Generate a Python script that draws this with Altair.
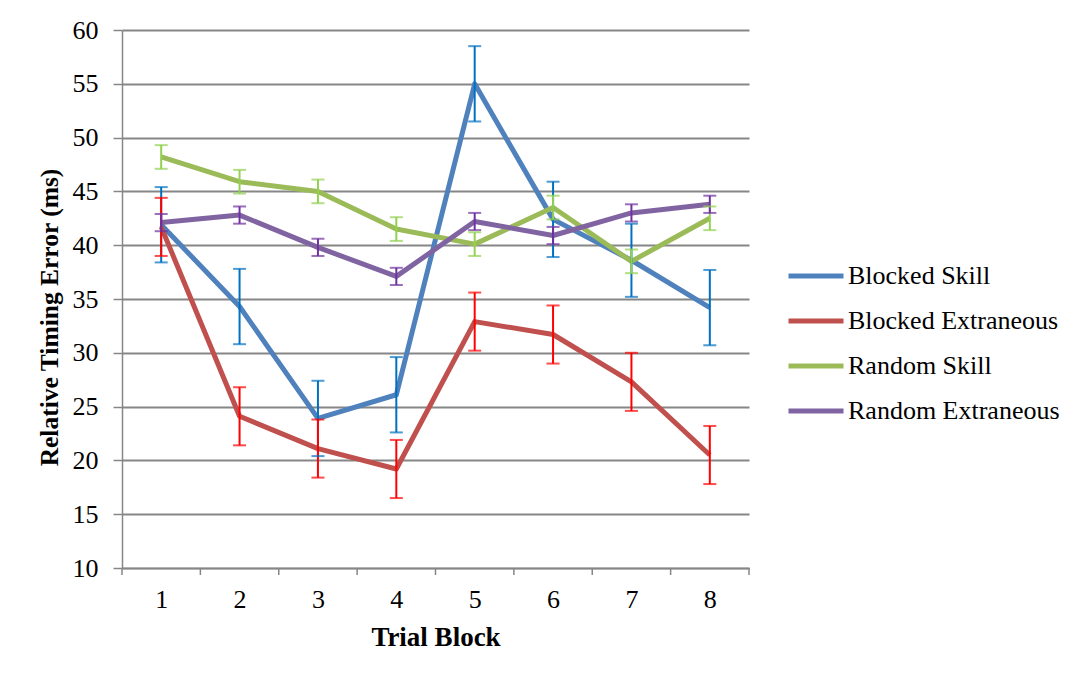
import altair as alt
import pandas as pd

trial = [1, 2, 3, 4, 5, 6, 7, 8]
series_names = ["Blocked Skill", "Blocked Extraneous", "Random Skill", "Random Extraneous"]

blocked_skill = [41.9, 34.3, 23.9, 26.1, 55.0, 42.4, 38.6, 34.2]
blocked_skill_err = [3.5, 3.5, 3.5, 3.5, 3.5, 3.5, 3.4, 3.5]
blocked_extr = [41.7, 24.1, 21.1, 19.2, 32.9, 31.7, 27.3, 20.5]
blocked_extr_err = [2.7, 2.7, 2.7, 2.7, 2.7, 2.7, 2.7, 2.7]
random_skill = [48.2, 45.9, 45.0, 41.5, 40.1, 43.5, 38.5, 42.5]
random_skill_err = [1.1, 1.1, 1.1, 1.1, 1.1, 1.1, 1.1, 1.1]
random_extr = [42.1, 42.8, 39.8, 37.1, 42.2, 40.9, 43.0, 43.8]
random_extr_err = [0.8, 0.8, 0.8, 0.8, 0.8, 0.8, 0.8, 0.8]

line_colors = ["#4F81BD", "#C0504D", "#9BBB59", "#8064A2"]
err_colors = ["#0070C0", "#FF0000", "#92D050", "#7030A0"]

y_ticks = [10, 15, 20, 25, 30, 35, 40, 45, 50, 55, 60]
x_bounds = [0.5, 1.5, 2.5, 3.5, 4.5, 5.5, 6.5, 7.5, 8.5]

rows = []
for name, vals, errs, ec in zip(
    series_names,
    [blocked_skill, blocked_extr, random_skill, random_extr],
    [blocked_skill_err, blocked_extr_err, random_skill_err, random_extr_err],
    err_colors,
):
    for t, v, e in zip(trial, vals, errs):
        rows.append(dict(trial=t, series=name, value=v, lo=v - e, hi=v + e, ecolor=ec))
df = pd.DataFrame(rows)
df_b = pd.DataFrame({"b": x_bounds})

W, H = 627, 538
FONT = "Liberation Serif"
GRAY = "#868686"

xscale = alt.Scale(domain=[0.5, 8.5], nice=False, zero=False)
yscale = alt.Scale(domain=[10, 60], nice=False, zero=False)

x_enc = alt.X(
    "trial:Q",
    scale=xscale,
    axis=alt.Axis(
        values=trial, format="d", tickSize=0, grid=False, title="Trial Block",
        labelPadding=31, labelBaseline="middle", labelFontSize=26,
        domainColor=GRAY, domainWidth=1.5,
        titleFontSize=27,
        titleX=W / 2, titleY=69, titleBaseline="middle", titleAlign="center",
    ),
)
y_enc = alt.Y(
    "value:Q",
    scale=yscale,
    axis=alt.Axis(
        values=y_ticks, tickSize=9, tickColor=GRAY, tickWidth=1.5,
        grid=True, gridColor=GRAY, gridWidth=1.8,
        domainColor=GRAY, domainWidth=1.5,
        labelPadding=15, labelFontSize=26,
        title="Relative Timing Error (ms)", titleFontSize=25.5,
        titleX=-73, titleY=H / 2 + 18, titleAngle=-90,
        titleBaseline="middle", titleAlign="center",
    ),
)

lines = alt.Chart(df).mark_line(strokeWidth=5, strokeJoin="round", opacity=1).encode(
    x=x_enc,
    y=y_enc,
    color=alt.Color(
        "series:N",
        scale=alt.Scale(domain=series_names, range=line_colors),
        sort=series_names,
        legend=alt.Legend(
            title=None, orient="none", legendX=664, legendY=216,
            symbolType="stroke", symbolSize=3025, symbolStrokeWidth=5,
            symbolOpacity=1,
            labelFont=FONT, labelFontSize=26, labelColor="#000000",
            labelOffset=2, rowPadding=2, labelLimit=400,
        ),
    ),
)

err_rule = alt.Chart(df).mark_rule(strokeWidth=2).encode(
    x=alt.X("trial:Q", scale=xscale),
    y=alt.Y("lo:Q", scale=yscale),
    y2="hi:Q",
    color=alt.Color("ecolor:N", scale=None),
)
cap_lo = alt.Chart(df).mark_tick(orient="horizontal", size=13, thickness=2).encode(
    x=alt.X("trial:Q", scale=xscale),
    y=alt.Y("lo:Q", scale=yscale),
    color=alt.Color("ecolor:N", scale=None),
)
cap_hi = alt.Chart(df).mark_tick(orient="horizontal", size=13, thickness=2).encode(
    x=alt.X("trial:Q", scale=xscale),
    y=alt.Y("hi:Q", scale=yscale),
    color=alt.Color("ecolor:N", scale=None),
)

x_ticks = alt.Chart(df_b).mark_rule(color=GRAY, strokeWidth=1.5).encode(
    x=alt.X("b:Q", scale=xscale),
    y=alt.value(H),
    y2=alt.value(H + 7),
)

chart = (
    alt.layer(x_ticks, lines, err_rule, cap_lo, cap_hi)
    .properties(
        width=W, height=H,
        padding={"left": 114, "top": 22, "right": 333, "bottom": 110},
        autosize=alt.AutoSizeParams(type="none"),
        background="#ffffff",
    )
    .configure_view(stroke=None)
    .configure_legend(symbolOpacity=1)
    .configure_axis(
        labelFont=FONT, titleFont=FONT, labelColor="#000000", titleColor="#000000",
        titleFontWeight="bold",
    )
)

chart.save("out.html", embed_options={"renderer": "svg", "actions": False})
